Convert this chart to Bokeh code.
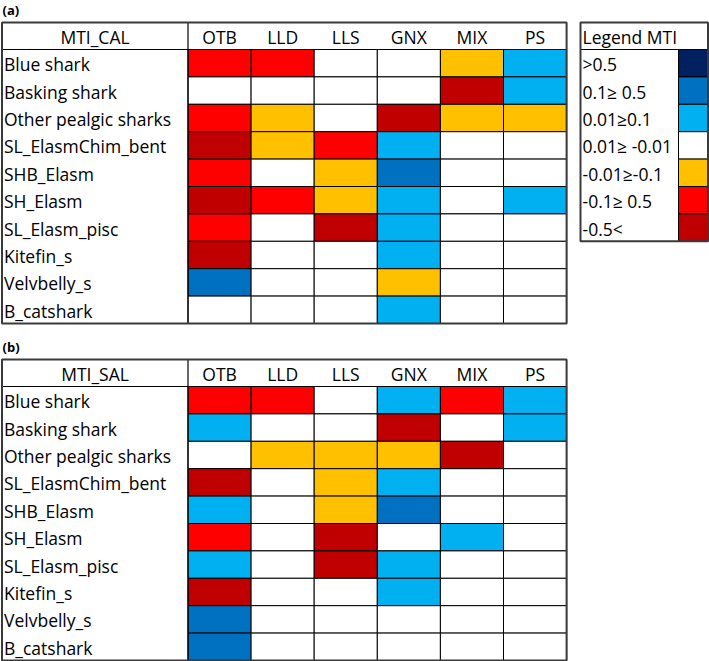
from bokeh.plotting import figure
from bokeh.models import Range1d, ColumnDataSource
from bokeh.core.properties import value
from bokeh.embed import file_html
from bokeh.resources import INLINE

# ---------------- data ----------------
species = ["Blue shark", "Basking shark", "Other pealgic sharks", "SL_ElasmChim_bent",
           "SHB_Elasm", "SH_Elasm", "SL_Elasm_pisc", "Kitefin_s", "Velvbelly_s", "B_catshark"]
gears = ["OTB", "LLD", "LLS", "GNX", "MIX", "PS"]

# classes: 3 >0.5, 2 0.1-0.5, 1 0.01-0.1, 0 neutral, -1 -0.01..-0.1, -2 -0.1..-0.5, -3 < -0.5
mti_cal = [
    [-2, -2, 0, 0, -1, 1],
    [0, 0, 0, 0, -3, 1],
    [-2, -1, 0, -3, -1, -1],
    [-3, -1, -2, 1, 0, 0],
    [-2, 0, -1, 2, 0, 0],
    [-3, -2, -1, 1, 0, 1],
    [-2, 0, -3, 1, 0, 0],
    [-3, 0, 0, 1, 0, 0],
    [2, 0, 0, -1, 0, 0],
    [0, 0, 0, 1, 0, 0],
]
mti_sal = [
    [-2, -2, 0, 1, -2, 1],
    [1, 0, 0, -3, 0, 1],
    [0, -1, -1, -1, -3, 0],
    [-3, 0, -1, 1, 0, 0],
    [1, 0, -1, 2, 0, 0],
    [-2, 0, -3, 0, 1, 0],
    [1, 0, -3, 1, 0, 0],
    [-3, 0, 0, 1, 0, 0],
    [2, 0, 0, 0, 0, 0],
    [2, 0, 0, 0, 0, 0],
]
legend_labels = [">0.5", "0.1\u2265 0.5", "0.01\u22650.1", "0.01\u2265 -0.01",
                 "-0.01\u2265-0.1", "-0.1\u2265 0.5", "-0.5<"]
legend_classes = [3, 2, 1, 0, -1, -2, -3]
class_colors = {3: "#002060", 2: "#0070C0", 1: "#00B0F0", 0: "#FFFFFF",
                -1: "#FFC000", -2: "#FF0000", -3: "#C00000"}

# ---------------- layout ----------------
W, H = 709, 661
FONT = value("Open Sans")
FS = "17.5px"

p = figure(width=W, height=H, x_range=Range1d(0, W), y_range=Range1d(H, 0),
           output_backend="svg", toolbar_location=None, min_border=0)
p.axis.visible = False
p.grid.visible = False
p.outline_line_color = None
p.background_fill_color = "white"
p.border_fill_color = "white"

X0 = 1.5          # table left
LBLW = 186        # label column width
CW = 63.1         # gear column width
RH = 27.4         # row height
HH = 27           # header height


def draw_table(top, title, header, matrix):
    xs, ys, cols = [], [], []
    for i, row in enumerate(matrix):
        for j, c in enumerate(row):
            xs.append(X0 + LBLW + (j + 0.5) * CW)
            ys.append(top + HH + (i + 0.5) * RH)
            cols.append(class_colors[c])
    src = ColumnDataSource(dict(x=xs, y=ys, c=cols))
    p.rect("x", "y", width=CW, height=RH, fill_color="c", line_color="#000000",
           line_width=1, source=src)
    right = X0 + LBLW + len(gears) * CW
    bottom = top + HH + len(matrix) * RH
    # header texts
    p.text(x=[X0 + LBLW / 2], y=[top + HH / 2 + 1], text=[header], text_font=FONT,
           text_font_size=FS, text_align="center", text_baseline="middle", text_color="#000000")
    p.text(x=[X0 + LBLW + (j + 0.5) * CW for j in range(len(gears))],
           y=[top + HH / 2 + 1] * len(gears), text=gears, text_font=FONT,
           text_font_size=FS, text_align="center", text_baseline="middle", text_color="#000000")
    # row labels
    p.text(x=[X0 + 2] * len(species), y=[top + HH + (i + 0.5) * RH + 1 for i in range(len(species))],
           text=species, text_font=FONT, text_font_size=FS, text_align="left",
           text_baseline="middle", text_color="#000000")
    # lines
    p.segment(x0=[X0, X0 + LBLW], y0=[top + HH, top], x1=[right, X0 + LBLW], y1=[top + HH, bottom],
              line_color="#000000", line_width=1.2)
    p.quad(left=[X0], right=[right], top=[top], bottom=[bottom], fill_color=None,
           line_color="#3a3a3a", line_width=2)
    # panel title
    p.text(x=[2], y=[top - 13], text=[title], text_font=FONT, text_font_size="13px",
           text_font_style="bold", text_align="left", text_baseline="middle", text_color="#000000")


draw_table(22, "(a)", "MTI_CAL", mti_cal)
draw_table(359, "(b)", "MTI_SAL", mti_sal)

# ---------------- legend ----------------
LX0, LX1, LXC = 580, 707.5, 678
LTOP = 22
ly = [LTOP + HH + (k + 0.5) * RH for k in range(len(legend_labels))]
p.rect(x=[(LXC + LX1) / 2] * len(legend_classes), y=ly, width=LX1 - LXC, height=RH,
       fill_color=[class_colors[c] for c in legend_classes], line_color="#000000", line_width=1)
p.text(x=[LX0 + 2] * len(legend_labels), y=[v + 1 for v in ly], text=legend_labels,
       text_font=FONT, text_font_size=FS, text_align="left", text_baseline="middle",
       text_color="#000000")
p.text(x=[LX0 + 2], y=[LTOP + HH / 2 + 1], text=["Legend MTI"], text_font=FONT,
       text_font_size=FS, text_align="left", text_baseline="middle", text_color="#000000")
lbottom = LTOP + HH + len(legend_labels) * RH
p.segment(x0=[LX0], y0=[LTOP + HH], x1=[LX1], y1=[LTOP + HH], line_color="#000000", line_width=1.2)
p.quad(left=[LX0], right=[LX1], top=[LTOP], bottom=[lbottom], fill_color=None,
       line_color="#3a3a3a", line_width=2)

open("out.html", "w").write(file_html(p, INLINE))
